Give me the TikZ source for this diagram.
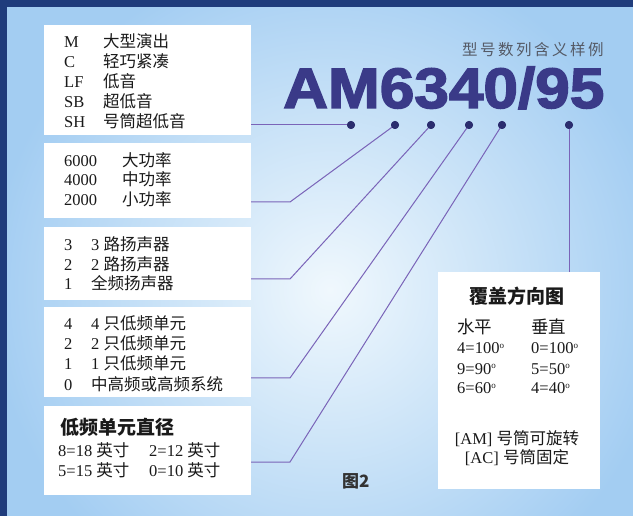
\documentclass[tikz,border=0pt]{standalone}
\usepackage{fontspec}
\setmainfont{Liberation Serif}
\newfontfamily\cjk{Noto Sans CJK SC}
\newfontfamily\cjktitle[LetterSpace=16]{Noto Sans CJK SC}
\newfontfamily\heavy[FakeBold=2.5]{Liberation Sans Bold}
\definecolor{navy}{HTML}{1F3C7C}
\definecolor{bgout}{HTML}{A3CDF2}
\definecolor{bgin}{HTML}{F0F8FD}
\definecolor{codecol}{HTML}{3A3A88}
\definecolor{dotcol}{HTML}{2B2D6E}
\definecolor{linecol}{HTML}{7A64B8}
\definecolor{titlegray}{HTML}{555A66}
\definecolor{txtcol}{HTML}{1A1A1A}
\newcommand{\zh}[1]{{\cjk #1}}
\newcommand{\dg}{\raisebox{0.75ex}{\fontsize{9}{9}\selectfont o}}
\tikzset{
  whitebox/.style={fill=white, draw=none, inner sep=0pt},
  txt/.style={anchor=base west, inner sep=0pt, text=txtcol, font=\fontsize{16.5}{18}\selectfont},
  ctxt/.style={txt, anchor=base},
  dotnode/.style={circle, fill=dotcol, inner sep=0pt, minimum size=8pt},
  conn/.style={draw=linecol, line width=1pt},
}
\begin{document}
\begin{tikzpicture}[x=1pt,y=-1pt]
\useasboundingbox (0,0) rectangle (633,516);
% background
\fill[bgout] (0,0) rectangle (633,516);
\begin{scope}
\clip (0,0) rectangle (633,516);
\shade[inner color=bgin, outer color=bgout] (330,290) circle (340);
\end{scope}
\fill[navy] (0,0) rectangle (633,7);
\fill[navy] (0,0) rectangle (7,516);
% boxes
\node[whitebox, minimum width=207pt, minimum height=110pt] (b1) at (147.5,80) {};
\node[whitebox, minimum width=207pt, minimum height=75pt] (b2) at (147.5,180.5) {};
\node[whitebox, minimum width=207pt, minimum height=73pt] (b3) at (147.5,263.5) {};
\node[whitebox, minimum width=207pt, minimum height=90pt] (b4) at (147.5,352) {};
\node[whitebox, minimum width=207pt, minimum height=89pt] (b5) at (147.5,450.5) {};
\node[whitebox, minimum width=162pt, minimum height=217pt] (b6) at (519,380.5) {};
% title and code
\node[anchor=base west, inner sep=0pt, text=titlegray, font=\cjktitle\fontsize{15.5}{16}\selectfont] (title) at (462,56) {型号数列含义样例};
\node[anchor=base west, inner sep=0pt, text=codecol, font=\heavy\fontsize{57}{57}\selectfont] (code) at (283,108) {\scalebox{1.09}[1]{AM6340/95}};
% dots
\node[dotnode] (d1) at (351,125) {};
\node[dotnode] (d2) at (395,125) {};
\node[dotnode] (d3) at (431,125) {};
\node[dotnode] (d4) at (469,125) {};
\node[dotnode] (d5) at (502,125) {};
\node[dotnode] (d6) at (569,125) {};
\coordinate (k2) at (290,202);
\coordinate (k3) at (290,279);
\coordinate (k4) at (290,378);
\coordinate (k5) at (290,462);
\draw[conn] (d1.center) -- (d1.center -| b1.east);
\draw[conn] (d2.center) -- (k2) -- (k2 -| b2.east);
\draw[conn] (d3.center) -- (k3) -- (k3 -| b3.east);
\draw[conn] (d4.center) -- (k4) -- (k4 -| b4.east);
\draw[conn] (d5.center) -- (k5) -- (k5 -| b5.east);
\draw[conn] (d6.center) -- (d6.center |- b6.north);
\foreach \n in {d1,d2,d3,d4,d5,d6} \node[dotnode] at (\n) {};
% box 1
\node[txt] (a1) at (64,48) {M};   \node[txt] (a1z) at (103,48) {\zh{大型演出}};
\node[txt] (a2) at (64,68) {C};   \node[txt] (a2z) at (103,68) {\zh{轻巧紧凑}};
\node[txt] (a3) at (64,88) {LF};  \node[txt] (a3z) at (103,88) {\zh{低音}};
\node[txt] (a4) at (64,108) {SB}; \node[txt] (a4z) at (103,108) {\zh{超低音}};
\node[txt] (a5) at (64,128) {SH}; \node[txt] (a5z) at (103,128) {\zh{号筒超低音}};
% box 2
\node[txt] (p1) at (64,167) {6000}; \node[txt] (p1z) at (122,167) {\zh{大功率}};
\node[txt] (p2) at (64,186) {4000}; \node[txt] (p2z) at (122,186) {\zh{中功率}};
\node[txt] (p3) at (64,206) {2000}; \node[txt] (p3z) at (122,206) {\zh{小功率}};
% box 3
\node[txt] (w1) at (64,251) {3}; \node[txt] (w1z) at (91,251) {3 \zh{路扬声器}};
\node[txt] (w2) at (64,271) {2}; \node[txt] (w2z) at (91,271) {2 \zh{路扬声器}};
\node[txt] (w3) at (64,290) {1}; \node[txt] (w3z) at (91,290) {\zh{全频扬声器}};
% box 4
\node[txt] (u1) at (64,330) {4}; \node[txt] (u1z) at (91,330) {4 \zh{只低频单元}};
\node[txt] (u2) at (64,350) {2}; \node[txt] (u2z) at (91,350) {2 \zh{只低频单元}};
\node[txt] (u3) at (64,370) {1}; \node[txt] (u3z) at (91,370) {1 \zh{只低频单元}};
\node[txt] (u4) at (64,390) {0}; \node[txt] (u4z) at (91,390) {\zh{中高频或高频系统}};
% box 5
\node[txt, font=\cjk\bfseries\fontsize{19}{20}\selectfont] (dh) at (60,434) {低频单元直径};
\node[txt] (s1) at (58,456) {8=18 \zh{英寸}};
\node[txt] (s2) at (149,456) {2=12 \zh{英寸}};
\node[txt] (s3) at (58,476) {5=15 \zh{英寸}};
\node[txt] (s4) at (149,476) {0=10 \zh{英寸}};
% box 6
\node[ctxt, font=\cjk\bfseries\fontsize{19}{20}\selectfont] (ch) at (517,304) {覆盖方向图};
\node[txt, font=\cjk\fontsize{17.5}{18}\selectfont] (hz) at (457,334) {水平};
\node[txt, font=\cjk\fontsize{17.5}{18}\selectfont] (vt) at (531,334) {垂直};
\node[txt] (h1) at (457,354) {4=100\dg};
\node[txt] (h2) at (457,374) {9=90\dg};
\node[txt] (h3) at (457,394) {6=60\dg};
\node[txt] (v1) at (531,354) {0=100\dg};
\node[txt] (v2) at (531,374) {5=50\dg};
\node[txt] (v3) at (531,394) {4=40\dg};
\node[ctxt] (am) at (517,444) {[AM] \zh{号筒可旋转}};
\node[ctxt] (ac) at (517,464) {[AC] \zh{号筒固定}};
% figure label
\node[txt, text=black!80, font=\cjk\bfseries\fontsize{17}{18}\selectfont] (fig) at (342,487) {图2};
\end{tikzpicture}
\end{document}
